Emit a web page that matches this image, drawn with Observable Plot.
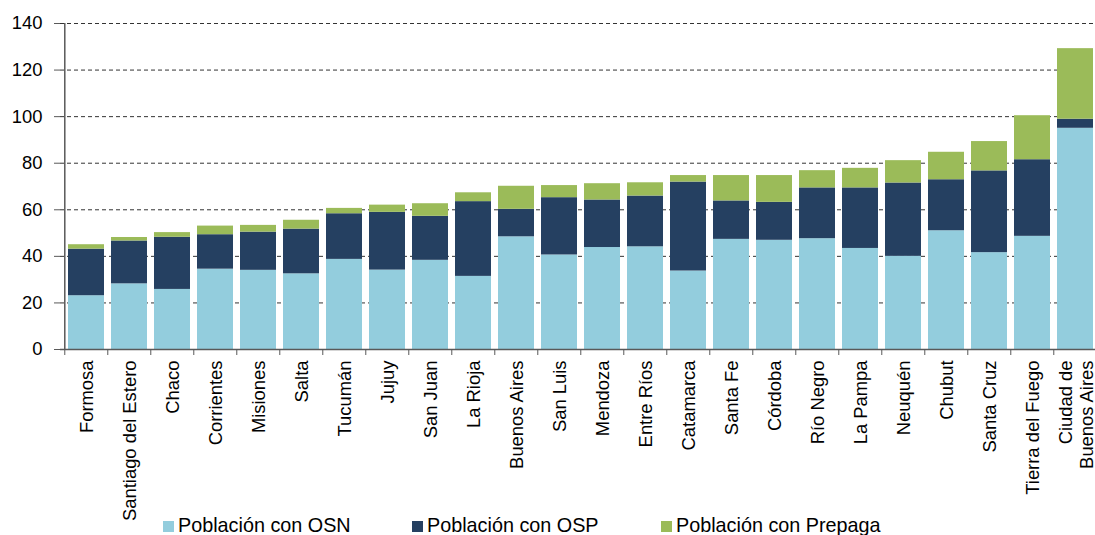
<!DOCTYPE html>
<html><head><meta charset="utf-8">
<script src="https://cdn.jsdelivr.net/npm/d3@7"></script>
<script src="https://cdn.jsdelivr.net/npm/@observablehq/plot@0.6"></script>
<style>
html,body{margin:0;padding:0;overflow:hidden;background:#fff;width:1095px;height:535px}
#chart{width:1095px;overflow-x:clip;overflow-y:visible}
#chart svg{overflow:visible;display:block;max-width:none !important;width:1102px;height:524px}
#legend{position:relative;width:1095px;height:21px;margin-top:-10px;font-family:"Liberation Sans",Arial,sans-serif;font-size:19.8px;color:#000;line-height:22px}
.item{position:absolute;top:0;white-space:nowrap}
.sw{display:inline-block;width:11px;height:11px;margin-right:4px;vertical-align:baseline}
</style></head><body>
<div id="chart"></div>
<div id="legend"></div>
<script>
const provinces = ["Formosa","Santiago del Estero","Chaco","Corrientes","Misiones","Salta","Tucumán","Jujuy","San Juan","La Rioja","Buenos Aires","San Luis","Mendoza","Entre Ríos","Catamarca","Santa Fe","Córdoba","Río Negro","La Pampa","Neuquén","Chubut","Santa Cruz","Tierra del Fuego","Ciudad de Buenos Aires"];
const provinceLabels = ["Formosa","Santiago del Estero","Chaco","Corrientes","Misiones","Salta","Tucumán","Jujuy","San Juan","La Rioja","Buenos Aires","San Luis","Mendoza","Entre Ríos","Catamarca","Santa Fe","Córdoba","Río Negro","La Pampa","Neuquén","Chubut","Santa Cruz","Tierra del Fuego","Ciudad de\nBuenos Aires"];
const osn     = [23.1,28.2,25.8,34.5,34.0,32.5,38.7,34.1,38.3,31.4,48.4,40.6,43.8,44.1,33.7,47.3,46.9,47.6,43.4,40.0,51.0,41.6,48.6,95.0];
const osp     = [20.0,18.4,22.4,14.8,16.4,19.2,19.6,24.8,18.9,32.1,11.8,24.6,20.4,21.8,38.2,16.5,16.3,21.8,26.0,31.5,21.9,35.1,32.9,3.9];
const prepaga = [1.9,1.5,2.0,3.7,2.9,3.8,2.3,3.1,5.4,3.8,9.9,5.2,7.0,5.7,2.8,10.9,11.5,7.4,8.4,9.6,11.8,12.6,18.9,30.3];
const seriesNames = ["Población con OSN","Población con OSP","Población con Prepaga"];
const seriesColors = ["#93CDDD","#254061","#9BBB59"];
const yTicks = [0,20,40,60,80,100,120,140];

const seriesValues = [osn, osp, prepaga];
const table = [];
provinces.forEach((p, i) => seriesNames.forEach((s, k) => table.push({province: p, series: s, value: seriesValues[k][i]})));
const labelOf = new Map(provinces.map((p, i) => [p, provinceLabels[i]]));

const W = 1102, ML = 60, MR = 0;
const step = (W - ML - MR) / provinces.length;
const font = '"Liberation Sans", Arial, sans-serif';

const chart = Plot.plot({
  width: W, height: 524,
  marginLeft: ML, marginRight: MR, marginTop: 23, marginBottom: 175,
  style: {fontFamily: font, fontSize: "18.4px", color: "#000", background: "transparent", overflow: "visible", maxWidth: "none"},
  x: {domain: provinces, paddingInner: 0.155, paddingOuter: 0.0775, label: null},
  y: {domain: [0, 140], label: null},
  color: {domain: seriesNames, range: seriesColors},
  marks: [
    Plot.ruleY(yTicks.filter(d => d > 0), {stroke: "#333", strokeWidth: 1, strokeDasharray: "4,3"}),
    Plot.barY(table, {x: "province", y: "value", fill: "series", order: seriesNames}),
    Plot.ruleY([0], {stroke: "#595959", strokeWidth: 1.5}),
    Plot.ruleX([provinces[0]], {y1: 0, y2: 140, dx: -step / 2, stroke: "#595959", strokeWidth: 1.5}),
    Plot.axisY(yTicks, {tickSize: 6, tickPadding: 12, stroke: "#595959", fill: "#000", label: null}),
    Plot.axisX({tickSize: 6, text: null, dx: -step / 2, stroke: "#595959", label: null}),
    Plot.axisX({tickSize: 0, tickPadding: 11, tickRotate: -90, tickFormat: d => labelOf.get(d), lineHeight: 1.15, fill: "#000", label: null})
  ]
});
document.getElementById("chart").appendChild(chart);

const legend = document.getElementById("legend");
const legendLeft = [163, 412, 661];
seriesNames.forEach((s, k) => {
  const it = document.createElement("div");
  it.className = "item";
  it.style.left = legendLeft[k] + "px";
  const sw = document.createElement("span");
  sw.className = "sw";
  sw.style.background = seriesColors[k];
  it.appendChild(sw);
  it.appendChild(document.createTextNode(s));
  legend.appendChild(it);
});
</script>
</body></html>
